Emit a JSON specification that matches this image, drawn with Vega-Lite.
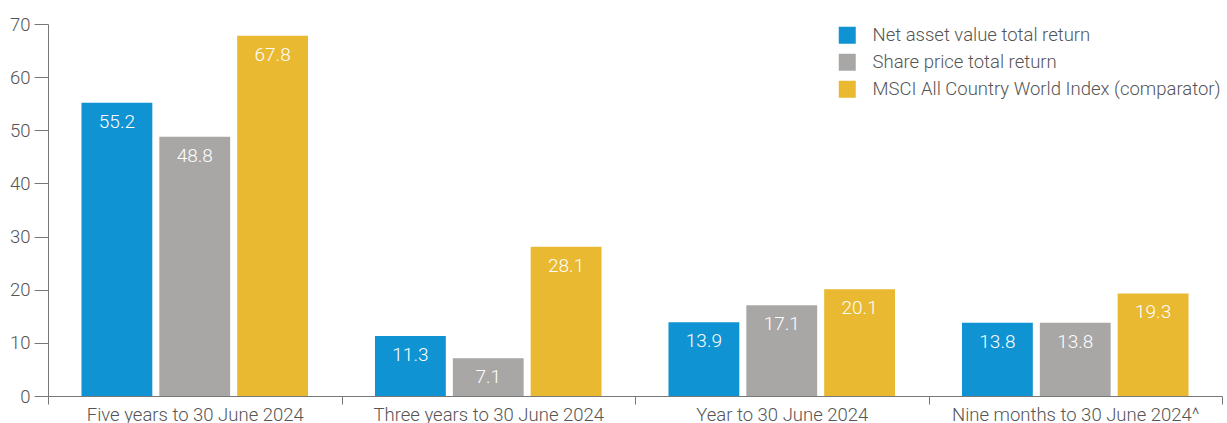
{
  "$schema": "https://vega.github.io/schema/vega-lite/v6.json",
  "width": 1174,
  "height": 372,
  "autosize": {"type": "none"},
  "padding": {"left": 48, "top": 24, "right": 5, "bottom": 27},
  "background": "white",
  "config": {
    "view": {"stroke": null},
    "font": "Roboto",
    "axis": {"labelFont": "Roboto", "labelFontWeight": 300, "labelColor": "#555", "labelFontSize": 18.5, "domainColor": "#777", "tickColor": "#777", "grid": false, "labelLimit": 0}
  },
  "data": {
    "values": [
      {"period": "Five years to 30 June 2024", "series": "Net asset value total return", "value": 55.2},
      {"period": "Five years to 30 June 2024", "series": "Share price total return", "value": 48.8},
      {"period": "Five years to 30 June 2024", "series": "MSCI All Country World Index (comparator)", "value": 67.8},
      {"period": "Three years to 30 June 2024", "series": "Net asset value total return", "value": 11.3},
      {"period": "Three years to 30 June 2024", "series": "Share price total return", "value": 7.1},
      {"period": "Three years to 30 June 2024", "series": "MSCI All Country World Index (comparator)", "value": 28.1},
      {"period": "Year to 30 June 2024", "series": "Net asset value total return", "value": 13.9},
      {"period": "Year to 30 June 2024", "series": "Share price total return", "value": 17.1},
      {"period": "Year to 30 June 2024", "series": "MSCI All Country World Index (comparator)", "value": 20.1},
      {"period": "Nine months to 30 June 2024^", "series": "Net asset value total return", "value": 13.8},
      {"period": "Nine months to 30 June 2024^", "series": "Share price total return", "value": 13.8},
      {"period": "Nine months to 30 June 2024^", "series": "MSCI All Country World Index (comparator)", "value": 19.3}
    ]
  },
  "encoding": {
    "x": {
      "field": "period", "type": "nominal", "sort": null, "title": null,
      "scale": {"paddingInner": 0, "paddingOuter": 0},
      "axis": {"labelAngle": 0, "tickBand": "extent", "tickSize": 8, "labelPadding": 1, "domainWidth": 1, "labelLimit": 0}
    },
    "xOffset": {
      "field": "series", "type": "nominal",
      "sort": ["Net asset value total return", "Share price total return", "MSCI All Country World Index (comparator)"],
      "scale": {"paddingInner": 0.09, "paddingOuter": 0.43}
    },
    "y": {
      "field": "value", "type": "quantitative", "title": null,
      "scale": {"domain": [0, 70], "nice": false},
      "axis": {"values": [0, 10, 20, 30, 40, 50, 60, 70], "tickSize": 14, "labelPadding": 4}
    }
  },
  "layer": [
    {
      "mark": {"type": "bar"},
      "encoding": {
        "color": {
          "field": "series", "type": "nominal",
          "sort": ["Net asset value total return", "Share price total return", "MSCI All Country World Index (comparator)"],
          "scale": {
            "domain": ["Net asset value total return", "Share price total return", "MSCI All Country World Index (comparator)"],
            "range": ["#0f93d2", "#a8a7a6", "#e8b931"]
          },
          "legend": {
            "title": null, "orient": "none", "legendX": 790, "legendY": 2,
            "symbolType": "square", "symbolSize": 289, "symbolStrokeWidth": 0,
            "labelFont": "Roboto", "labelFontWeight": 300, "labelFontSize": 18.5, "labelColor": "#555",
            "labelOffset": 16, "rowPadding": 8, "labelLimit": 500
          }
        }
      }
    },
    {
      "mark": {"type": "text", "baseline": "middle", "dy": 19, "color": "white", "fontSize": 19, "font": "Roboto", "fontWeight": 300},
      "encoding": {
        "text": {"field": "value", "type": "quantitative", "format": ".1f"}
      }
    }
  ]
}
